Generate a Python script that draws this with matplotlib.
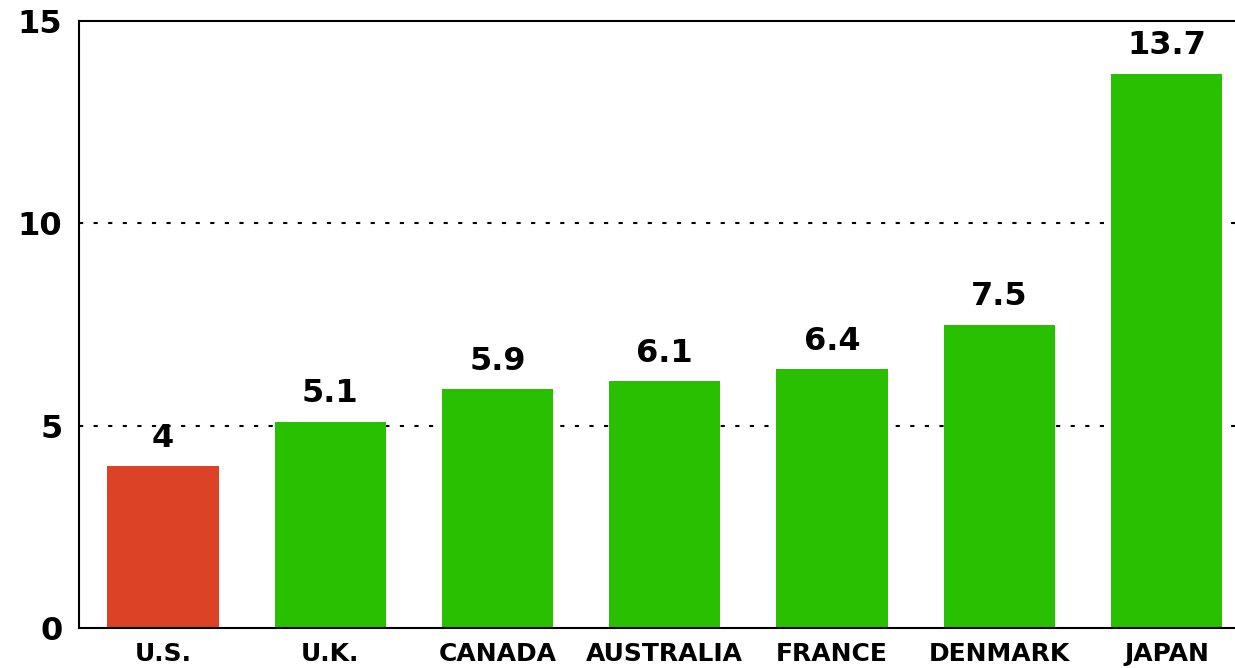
import matplotlib
matplotlib.use("Agg")
import matplotlib.pyplot as plt

countries = ["U.S.", "U.K.", "CANADA", "AUSTRALIA", "FRANCE", "DENMARK", "JAPAN"]
values = [4, 5.1, 5.9, 6.1, 6.4, 7.5, 13.7]
value_labels = ["4", "5.1", "5.9", "6.1", "6.4", "7.5", "13.7"]
y_ticks = [0, 5, 10, 15]

RED = "#DC4326"
GREEN = "#28C000"

plt.rcParams["font.family"] = ["DejaVu Sans"]

fig = plt.figure(figsize=(12.35, 6.68), dpi=100)
ax = fig.add_axes([79 / 1235, 40 / 668, 1 - 79 / 1235, 607 / 668])

x = list(range(len(countries)))
colors = [RED] + [GREEN] * (len(countries) - 1)

for yv in [5, 10]:
    ax.axhline(yv, color="black", lw=1.5, dashes=(2, 5), zorder=1)

ax.bar(x, values, width=0.665, color=colors, zorder=2)

for xi, v, lab in zip(x, values, value_labels):
    ax.annotate(lab, (xi, v), xytext=(0, 9), textcoords="offset points",
                ha="center", va="bottom", fontsize=23, fontweight="bold")

ax.set_xlim(-0.502, 6.41)
ax.set_ylim(0, 15)
ax.set_yticks(y_ticks)
ax.set_yticklabels([str(t) for t in y_ticks], fontsize=23, fontweight="bold")
ax.set_xticks(x)
ax.set_xticklabels(countries, fontsize=18, fontweight="bold")
ax.tick_params(axis="both", length=0)
ax.tick_params(axis="y", pad=12)
ax.tick_params(axis="x", pad=10)

ax.spines["right"].set_visible(False)
for s in ["left", "top", "bottom"]:
    ax.spines[s].set_linewidth(1.5)

fig.savefig("out.png", dpi=100)
